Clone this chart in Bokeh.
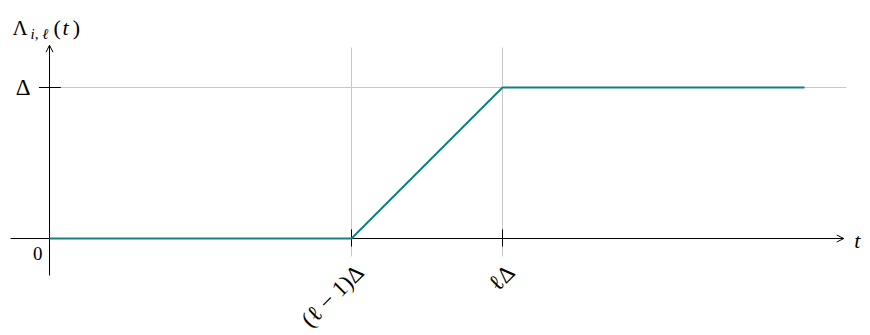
import math
from bokeh.plotting import figure
from bokeh.models import ColumnDataSource, Arrow, OpenHead, Range1d
from bokeh.core.properties import value
from bokeh.embed import file_html
from bokeh.resources import INLINE

# ---- data (Delta = 1, ell = 3) ----
t_vals = [0, 2, 3, 5]
lam_vals = [0, 0, 1, 1]
x_ticks = [2, 3]
x_tick_labels = ["(ℓ − 1)Δ", "ℓΔ"]
y_ticks = [1]
y_tick_labels = ["Δ"]
origin_label = "0"

SERIF = "Liberation Serif"
TEAL = "#138080"
GRID = "#c8c8c8"

W, H = 866, 333
S = 151.0          # pixels per unit
OX, OY = 49, 238   # pixel position of origin

p = figure(width=W, height=H, output_backend="svg", toolbar_location=None,
           x_axis_type=None, y_axis_type=None, min_border=0,
           x_range=Range1d(-OX / S, (W - OX) / S), y_range=Range1d((OY - H) / S, OY / S))
p.outline_line_color = None
p.background_fill_color = "white"
p.border_fill_color = "white"

# grid lines
p.segment(x0=x_ticks, x1=x_ticks, y0=[-0.119] * len(x_ticks), y1=[1.265] * len(x_ticks),
          line_color=GRID, line_width=1)
p.segment(x0=[0] * len(y_ticks), x1=[5.278] * len(y_ticks), y0=y_ticks, y1=y_ticks,
          line_color=GRID, line_width=1)

# axes with arrows
p.add_layout(Arrow(x_start=-0.258, y_start=0, x_end=5.26, y_end=0, line_color="black",
                   line_width=1, end=OpenHead(size=7, line_width=1, line_color="black")))
p.add_layout(Arrow(x_start=0, y_start=-0.245, x_end=0, y_end=1.28, line_color="black",
                   line_width=1, end=OpenHead(size=7, line_width=1, line_color="black")))

# ticks
p.segment(x0=x_ticks, x1=x_ticks, y0=[-0.053] * len(x_ticks), y1=[0.06] * len(x_ticks),
          line_color="black", line_width=1, level="overlay")
p.segment(x0=[-0.07] * len(y_ticks), x1=[0.075] * len(y_ticks), y0=y_ticks, y1=y_ticks,
          line_color="black", line_width=1)

# the function (drawn above the axes)
p.line(t_vals, lam_vals, line_color=TEAL, line_width=2, level="overlay")

# tick labels
xs = ColumnDataSource(dict(x=[v + 0.055 for v in x_ticks], y=[-0.2] * len(x_ticks), text=x_tick_labels))
p.text(x="x", y="y", text="text", source=xs, angle=math.pi / 4, text_align="right",
       text_baseline="middle", text_font=value(SERIF), text_font_size="23px", text_color="black")
ys = ColumnDataSource(dict(x=[-0.126] * len(y_ticks), y=y_ticks, text=y_tick_labels))
p.text(x="x", y="y", text="text", source=ys, text_align="right", text_baseline="middle",
       text_font=value(SERIF), text_font_size="23px", text_color="black")
p.text(x=[-0.046], y=[-0.1], text=[origin_label], text_align="right", text_baseline="middle",
       text_font=value(SERIF), text_font_size="19px", text_color="black")

# axis labels
p.text(x=[5.33], y=[-0.013], text=["t"], text_align="left", text_baseline="middle",
       text_font=value(SERIF), text_font_style="italic", text_font_size="22px", text_color="black")
p.text(x=[-0.245], y=[1.397], text=["Λ"], text_align="left", text_baseline="alphabetic",
       text_font=value(SERIF), text_font_size="21px", text_color="black")
p.text(x=[-0.126], y=[1.355], text=["i, ℓ"], text_align="left", text_baseline="alphabetic",
       text_font=value(SERIF), text_font_style="italic", text_font_size="15px", text_color="black")
p.text(x=[0.026, 0.154], y=[1.397, 1.397], text=["(", ")"], text_align="left",
       text_baseline="alphabetic", text_font=value(SERIF), text_font_size="22px", text_color="black")
p.text(x=[0.086], y=[1.397], text=["t"], text_align="left", text_baseline="alphabetic",
       text_font=value(SERIF), text_font_style="italic", text_font_size="22px", text_color="black")

open("out.html", "w").write(file_html(p, INLINE))
